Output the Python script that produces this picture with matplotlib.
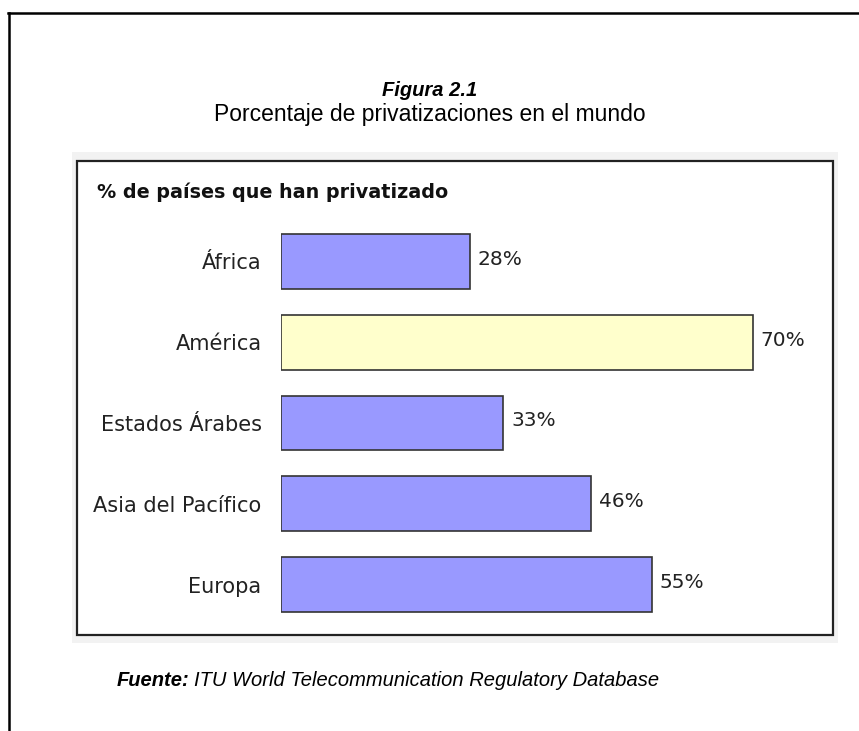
"""Figura 2.1 - Porcentaje de privatizaciones en el mundo (horizontal bar chart)."""

import matplotlib
matplotlib.use("Agg")
import matplotlib.pyplot as plt
from matplotlib.patches import Rectangle
from matplotlib.lines import Line2D

# ---------------------------------------------------------------------------
# Data
# ---------------------------------------------------------------------------
regions = ["África", "América", "Estados Árabes", "Asia del Pacífico", "Europa"]
pct_privatized = [28, 70, 33, 46, 55]
highlight = "América"

BLUE = "#9999ff"
YELLOW = "#ffffcc"
EDGE = "#333333"

W, H = 859, 731


def fx(px):
    return px / W


def fy(py):
    return 1 - py / H


fig = plt.figure(figsize=(W / 100, H / 100), dpi=100)
fig.patch.set_facecolor("white")

# outer frame (top and left only are visible)
fig.add_artist(Line2D([fx(8), fx(859)], [fy(13), fy(13)], color="black", lw=1.8))
fig.add_artist(Line2D([fx(8.5), fx(8.5)], [fy(13), fy(731)], color="black", lw=1.8))

# figure title
fig.text(0.5, fy(90), "Figura 2.1", ha="center", va="center",
         fontsize=14.5, fontweight="bold", style="italic", family="Liberation Sans")
fig.text(0.5, fy(115), "Porcentaje de privatizaciones en el mundo", ha="center",
         va="center", fontsize=16.5, family="Liberation Sans")

# grey panel + bordered white box
fig.add_artist(Rectangle((fx(72), fy(643)), fx(838) - fx(72), fy(152) - fy(643),
                         transform=fig.transFigure, facecolor="#f2f2f2",
                         edgecolor="none", zorder=0))
fig.add_artist(Rectangle((fx(77), fy(635)), fx(833) - fx(77), fy(161) - fy(635),
                         transform=fig.transFigure, facecolor="white",
                         edgecolor="#222222", lw=1.6, zorder=0.5))

fig.text(fx(97), fy(192), "% de países que han privatizado", ha="left", va="center",
         fontsize=13.8, fontweight="bold", family="DejaVu Sans", color="#111111")

# bar axes
ax = fig.add_axes([fx(281), fy(625), fx(833) - fx(281), fy(221) - fy(625)])
ax.set_zorder(2)
ax.set_facecolor("none")
colors = [YELLOW if r == highlight else BLUE for r in regions]
ypos = list(range(len(regions)))
ax.barh(ypos, pct_privatized, height=0.68, color=colors, edgecolor=EDGE, lw=1.2)
for y, v in zip(ypos, pct_privatized):
    ax.annotate(f"{v}%", (v, y), xytext=(5.5, 1.5), textcoords="offset points",
                ha="left", va="center", fontsize=14.5, color="#222222",
                family="DejaVu Sans")

ax.set_xlim(0, (833 - 281) / 6.74)
ax.set_ylim(len(regions) - 0.5, -0.5)
ax.set_yticks(ypos)
ax.set_yticklabels(regions, fontsize=15, color="#222222", family="DejaVu Sans")
ax.tick_params(axis="y", length=0, pad=14)
ax.set_xticks([])
for s in ax.spines.values():
    s.set_visible(False)

# source note
src = fig.text(fx(117), fy(681), "Fuente:", ha="left", va="center", fontsize=14.5,
               fontweight="bold", style="italic", family="Liberation Sans")
fig.canvas.draw()
bb = src.get_window_extent()
fig.text(bb.x1 / W + fx(4), fy(681), "ITU World Telecommunication Regulatory Database",
         ha="left", va="center", fontsize=14.5, style="italic", family="Liberation Sans")

fig.savefig("out.png", dpi=100)
